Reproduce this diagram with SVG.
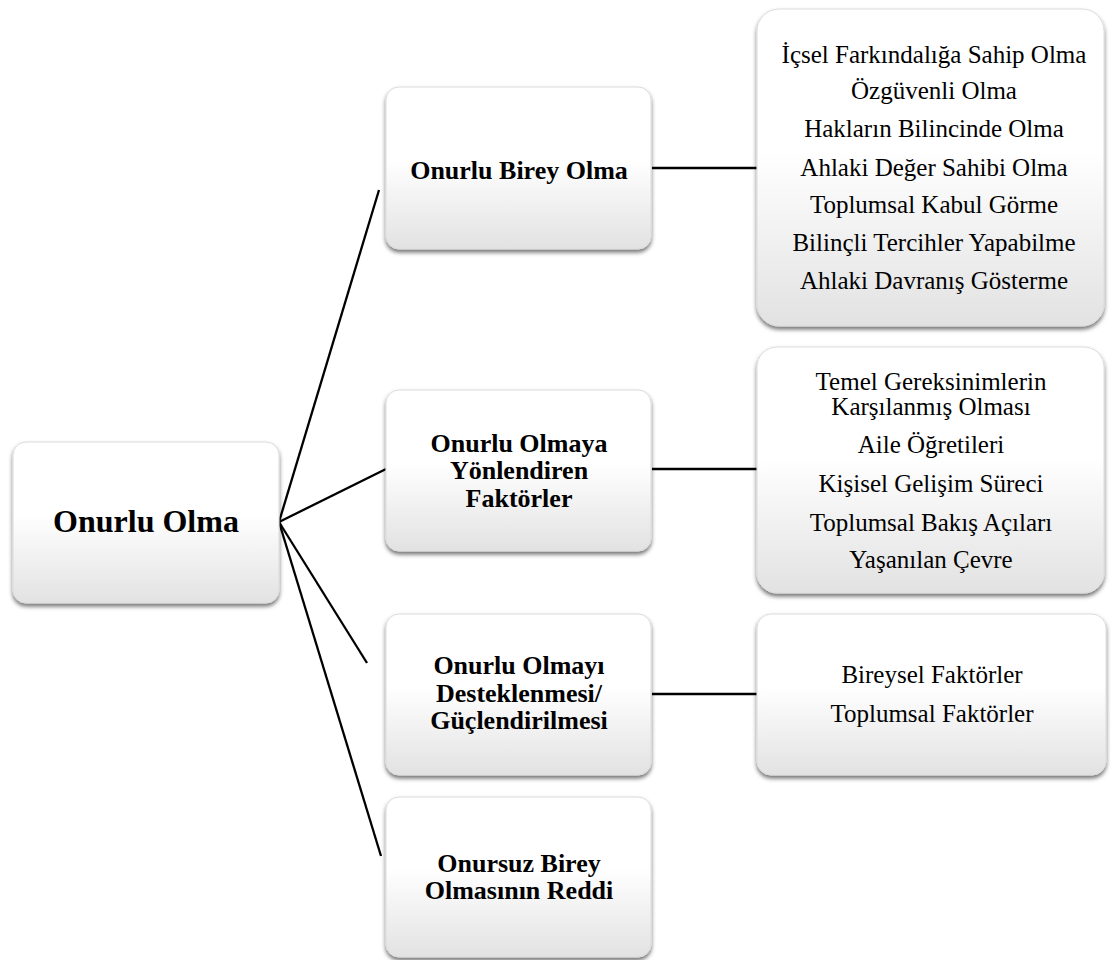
<svg xmlns="http://www.w3.org/2000/svg" width="1111" height="960" viewBox="0 0 1111 960">
<defs>
<linearGradient id="g" x1="0" y1="0" x2="0" y2="1">
<stop offset="0" stop-color="#ffffff"/>
<stop offset="0.45" stop-color="#ffffff"/>
<stop offset="1" stop-color="#e2e2e2"/>
</linearGradient>
<linearGradient id="side" x1="0" y1="0" x2="1" y2="0">
<stop offset="0" stop-color="#000" stop-opacity="0.10"/>
<stop offset="0.02" stop-color="#000" stop-opacity="0"/>
<stop offset="0.98" stop-color="#000" stop-opacity="0"/>
<stop offset="1" stop-color="#000" stop-opacity="0.10"/>
</linearGradient>
<filter id="sh" x="-10%" y="-10%" width="120%" height="125%">
<feDropShadow dx="0" dy="3" stdDeviation="2" flood-color="#000" flood-opacity="0.55"/>
</filter>
</defs>
<style>
.box{fill:url(#g);stroke:#dcdcdc;stroke-width:1;filter:url(#sh)}
.t{font-family:"Liberation Serif","Times New Roman",serif;fill:#000;text-anchor:middle}
.b{font-weight:bold;font-size:26px}
.r{font-size:25px}
.root{font-weight:bold;font-size:32px}
.c line{stroke:#000;stroke-width:2.3}
</style>
<rect width="1111" height="960" fill="#fff"/>
<g class="c" id="connectors">
<line x1="279" y1="522" x2="379" y2="190"/>
<line x1="279" y1="522" x2="386" y2="469"/>
<line x1="279" y1="522" x2="367" y2="663"/>
<line x1="279" y1="522" x2="381" y2="856"/>
<line x1="652" y1="168" x2="757" y2="168"/>
<line x1="652" y1="469" x2="757" y2="469"/>
<line x1="652" y1="694" x2="757" y2="694"/>
</g>
<g id="n-root">
<rect class="box" x="13" y="442" width="266" height="161" rx="13"/>
<text class="t root" x="146" y="532">Onurlu Olma</text>
</g>
<g id="n-birey">
<rect class="box" x="386" y="87" width="265" height="162" rx="13"/>
<text class="t b" x="519" y="179">Onurlu Birey Olma</text>
</g>
<g id="n-yonlendiren">
<rect class="box" x="386" y="390" width="265" height="161" rx="13"/>
<text class="t b" x="519" y="452">Onurlu Olmaya</text>
<text class="t b" x="519" y="479">Yönlendiren</text>
<text class="t b" x="519" y="507">Faktörler</text>
</g>
<g id="n-destek">
<rect class="box" x="386" y="614" width="265" height="161" rx="13"/>
<text class="t b" x="519" y="674">Onurlu Olmayı</text>
<text class="t b" x="519" y="702">Desteklenmesi/</text>
<text class="t b" x="519" y="729">Güçlendirilmesi</text>
</g>
<g id="n-red">
<rect class="box" x="386" y="797" width="265" height="160" rx="13"/>
<text class="t b" x="519" y="872">Onursuz Birey</text>
<text class="t b" x="519" y="899">Olmasının Reddi</text>
</g>
<g id="n-birey-list">
<rect class="box" x="757" y="9" width="347" height="317" rx="22"/>
<text class="t r" x="934" y="63">İçsel Farkındalığa Sahip Olma</text>
<text class="t r" x="934" y="99">Özgüvenli Olma</text>
<text class="t r" x="934" y="137">Hakların Bilincinde Olma</text>
<text class="t r" x="934" y="176">Ahlaki Değer Sahibi Olma</text>
<text class="t r" x="934" y="213">Toplumsal Kabul Görme</text>
<text class="t r" x="934" y="251">Bilinçli Tercihler Yapabilme</text>
<text class="t r" x="934" y="289">Ahlaki Davranış Gösterme</text>
</g>
<g id="n-yon-list">
<rect class="box" x="757" y="347" width="347" height="246" rx="20"/>
<text class="t r" x="931" y="390">Temel Gereksinimlerin</text>
<text class="t r" x="931" y="415">Karşılanmış Olması</text>
<text class="t r" x="931" y="453">Aile Öğretileri</text>
<text class="t r" x="931" y="492">Kişisel Gelişim Süreci</text>
<text class="t r" x="931" y="531">Toplumsal Bakış Açıları</text>
<text class="t r" x="931" y="568">Yaşanılan Çevre</text>
</g>
<g id="n-destek-list">
<rect class="box" x="757" y="614" width="349" height="161" rx="14"/>
<text class="t r" x="932" y="683">Bireysel Faktörler</text>
<text class="t r" x="932" y="722">Toplumsal Faktörler</text>
</g>
</svg>
